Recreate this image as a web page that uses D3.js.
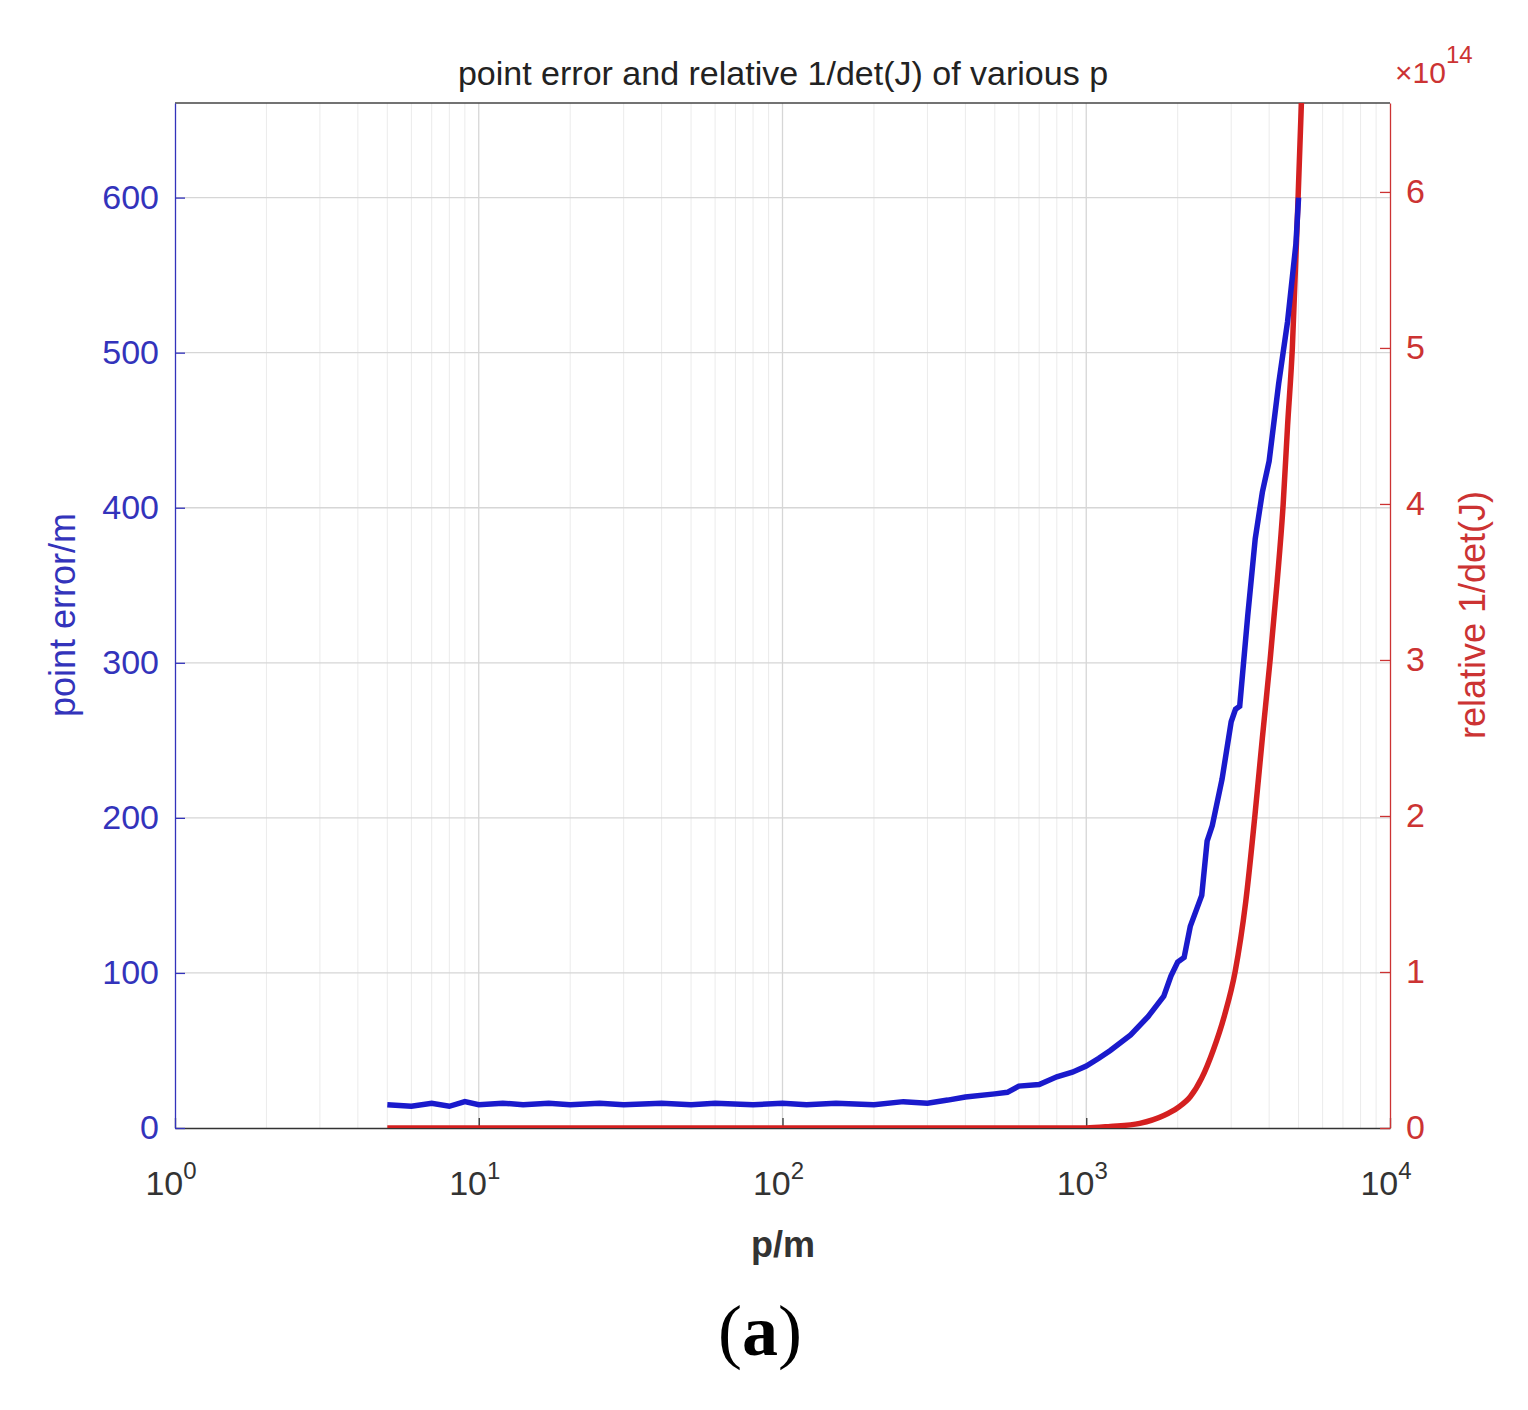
<!DOCTYPE html>
<html lang="en">
<head>
<meta charset="UTF-8">
<script src="https://cdn.jsdelivr.net/npm/d3@7"></script>
<title>point error</title>
<style>body{margin:0;background:#fff}</style>
</head>
<body>
<script>
// blue: point error (m) vs p
let errP = [5,6,7,8,9,10,12,14,17,20,25,30,40,50,60,80,100,120,150,200,250,300,350,400,500,550,600,700,800,900,1000,1100,1200,1400,1600,1800,1900,2000,2100,2200,2400,2500,2600,2800,3000,3100,3200,3400,3600,3800,4000,4300,4600,4900,5000]
let errV = [15,14,16,14,17,15,16,15,16,15,16,15,16,15,16,15,16,15,16,15,17,16,18,20,22,23,27,28,33,36,40,45,50,60,72,85,98,107,110,130,150,185,195,225,262,270,272,330,380,410,430,480,520,570,600]
// red: relative 1/det(J), x 1e14
let detP = [5,100,500,1000,1200,1500,1800,2000,2200,2400,2620,2850,3090,3350,3590,3800,4030,4250,4450,4600,4770,4990,5200]
let detV = [0,0,0,0,0.01,0.03,0.08,0.13,0.2,0.32,0.5,0.72,1.0,1.45,2.0,2.5,3.0,3.5,4.0,4.5,5.0,6.0,7.0]
let leftTicks = [0,100,200,300,400,500,600]
let rightTicks = [0,1,2,3,4,5,6]

let W = 1528, H = 1410
let m = {l:175, r:1390, t:103, b:1128}
let svg = d3.select("body").append("svg").attr("width", W).attr("height", H)
    .style("font-family", "Liberation Sans, Arial, sans-serif")

let x = d3.scaleLog().domain([1, 10000]).range([m.l, m.r])
let y = d3.scaleLinear().domain([0, 661]).range([m.b, m.t])
let y2 = d3.scaleLinear().domain([0, 6.57]).range([m.b, m.t])

// grid
let minor = []
for (let d = 1; d < 10000; d *= 10) for (let k = 2; k < 10; k++) minor.push(d * k)
svg.selectAll(".mg").data(minor).enter().append("line")
    .attr("x1", d => x(d)).attr("x2", d => x(d)).attr("y1", m.t).attr("y2", m.b)
    .attr("stroke", "#ebebeb").attr("stroke-width", 1)
svg.selectAll(".xg").data([10,100,1000]).enter().append("line")
    .attr("x1", d => x(d)).attr("x2", d => x(d)).attr("y1", m.t).attr("y2", m.b)
    .attr("stroke", "#d6d6d6").attr("stroke-width", 1.3)
svg.selectAll(".yg").data(leftTicks.slice(1)).enter().append("line")
    .attr("x1", m.l).attr("x2", m.r).attr("y1", d => y(d)).attr("y2", d => y(d))
    .attr("stroke", "#d6d6d6").attr("stroke-width", 1.3)

// box
svg.append("line").attr("x1", m.l).attr("x2", m.r).attr("y1", m.t).attr("y2", m.t).attr("stroke", "#444").attr("stroke-width", 1.3)

// axes
let xa = svg.append("g").attr("transform", `translate(0,${m.b})`)
    .call(d3.axisBottom(x).tickValues([1,10,100,1000,10000]).tickFormat("").tickSizeInner(-10).tickSizeOuter(0))
xa.selectAll("path,line").attr("stroke", "#333").attr("stroke-width", 1.3)
let xt = svg.selectAll(".xl").data([0,1,2,3,4]).enter().append("text")
    .attr("x", d => x(Math.pow(10, d)) - 4).attr("y", 1195).attr("text-anchor", "middle")
    .attr("font-size", 34).attr("fill", "#333")
xt.append("tspan").text("10")
xt.append("tspan").text(d => d).attr("font-size", 24).attr("dy", -16)

let ya = svg.append("g").attr("transform", `translate(${m.l},0)`)
    .call(d3.axisLeft(y).tickValues(leftTicks).tickSizeInner(-10).tickSizeOuter(0).tickPadding(16))
ya.selectAll("path,line").attr("stroke", "#3333bb").attr("stroke-width", 1.3)
ya.selectAll("text").attr("font-size", 34).attr("fill", "#3333bb")

let ya2 = svg.append("g").attr("transform", `translate(${m.r},0)`)
    .call(d3.axisRight(y2).tickValues(rightTicks).tickFormat(d3.format("d")).tickSizeInner(-10).tickSizeOuter(0).tickPadding(16))
ya2.selectAll("path,line").attr("stroke", "#cc3333").attr("stroke-width", 1.3)
ya2.selectAll("text").attr("font-size", 34).attr("fill", "#cc3333")

let ex = svg.append("text").attr("x", 1395).attr("y", 83).attr("font-size", 30).attr("fill", "#cc3333")
ex.append("tspan").text("×10")
ex.append("tspan").text("14").attr("font-size", 24).attr("dy", -20)

// lines
svg.append("defs").append("clipPath").attr("id", "clip").append("rect")
    .attr("x", m.l).attr("y", m.t).attr("width", m.r - m.l).attr("height", m.b - m.t)
let g = svg.append("g").attr("clip-path", "url(#clip)")
g.append("path").datum(d3.zip(detP, detV))
    .attr("d", d3.line().x(d => x(d[0])).y(d => y2(d[1])).curve(d3.curveMonotoneX))
    .attr("fill", "none").attr("stroke", "#d42020").attr("stroke-width", 5.5)
g.append("path").datum(d3.zip(errP, errV))
    .attr("d", d3.line().x(d => x(d[0])).y(d => y(d[1])))
    .attr("fill", "none").attr("stroke", "#1a1acc").attr("stroke-width", 5.5)

// titles
svg.append("text").attr("x", 783).attr("y", 85).attr("text-anchor", "middle")
    .attr("font-size", 34).attr("fill", "#222").text("point error and relative 1/det(J) of various p")
svg.append("text").attr("x", 783).attr("y", 1257).attr("text-anchor", "middle")
    .attr("font-size", 36).attr("font-weight", "bold").attr("fill", "#333").text("p/m")
svg.append("text").attr("transform", "translate(75,615) rotate(-90)").attr("text-anchor", "middle")
    .attr("font-size", 36).attr("fill", "#3333bb").text("point error/m")
svg.append("text").attr("transform", "translate(1485,615) rotate(-90)").attr("text-anchor", "middle")
    .attr("font-size", 36).attr("fill", "#cc3333").text("relative 1/det(J)")
svg.append("text").attr("x", 760).attr("y", 1355).attr("text-anchor", "middle")
    .attr("font-size", 72).attr("font-family", "Liberation Serif, serif").attr("fill", "#000")
    .html('(<tspan font-weight="bold">a</tspan>)')
</script>
</body>
</html>
